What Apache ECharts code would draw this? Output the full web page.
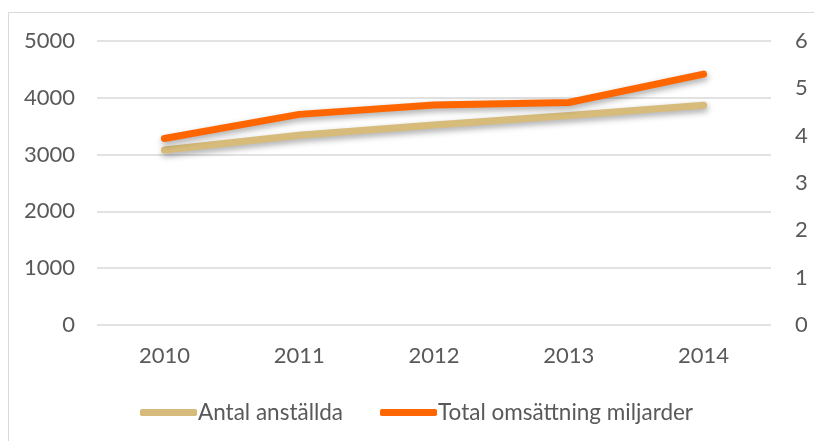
<!DOCTYPE html>
<html>
<head>
<meta charset="utf-8">
<script src="https://cdn.jsdelivr.net/npm/echarts@6/dist/echarts.min.js"></script>
<style>
  html, body { margin: 0; padding: 0; background: #fff; }
  #chart { width: 814px; height: 441px; }
</style>
</head>
<body>
<div id="chart"></div>
<script>
// data
var years = ['2010', '2011', '2012', '2013', '2014'];
var anstallda = [3080, 3340, 3520, 3690, 3870];
var omsattning = [3.94, 4.45, 4.65, 4.70, 5.30];
var seriesNames = ['Antal anställda', 'Total omsättning miljarder'];

var chart = echarts.init(document.getElementById('chart'));
var font = 'Lato, "Open Sans", sans-serif';
var textColor = '#595959';

var option = {
  animation: false,
  backgroundColor: '#fff',
  graphic: [{
    type: 'rect',
    shape: { x: 8.5, y: 12.5, width: 830, height: 440 },
    style: { fill: 'none', stroke: '#d9d9d9', lineWidth: 1 },
    silent: true
  }],
  grid: { left: 97, right: 43, top: 41, bottom: 116 },
  legend: {
    left: 135,
    top: 396,
    itemWidth: 57,
    itemHeight: 7,
    itemGap: 37,
    icon: 'roundRect',
    textStyle: { fontFamily: font, fontSize: 22.5, color: textColor, padding: [0, 0, 0, -4] },
    data: seriesNames
  },
  xAxis: {
    type: 'category',
    data: years,
    boundaryGap: true,
    axisLine: { show: false },
    axisTick: { show: false },
    axisLabel: { fontFamily: font, fontSize: 22, color: textColor, margin: 20 }
  },
  yAxis: [{
    type: 'value',
    min: 0,
    max: 5000,
    interval: 1000,
    axisLine: { show: false },
    axisTick: { show: false },
    axisLabel: {
      fontFamily: font, fontSize: 22, color: textColor, margin: 22,
      formatter: function (v) { return String(v); }
    },
    splitLine: { lineStyle: { color: '#d9d9d9', width: 1.5 } }
  }, {
    type: 'value',
    min: 0,
    max: 6,
    interval: 1,
    position: 'right',
    axisLine: { show: false },
    axisTick: { show: false },
    axisLabel: { fontFamily: font, fontSize: 22, color: textColor, margin: 24 },
    splitLine: { show: false }
  }],
  series: [{
    name: seriesNames[0],
    type: 'line',
    yAxisIndex: 0,
    data: anstallda,
    showSymbol: false,
    itemStyle: { color: '#d6bb7a' },
    lineStyle: {
      color: '#d6bb7a', width: 7, cap: 'round', join: 'round',
      shadowColor: 'rgba(0,0,0,0.35)', shadowBlur: 6, shadowOffsetY: 3, shadowOffsetX: 1
    }
  }, {
    name: seriesNames[1],
    type: 'line',
    yAxisIndex: 1,
    data: omsattning,
    showSymbol: false,
    itemStyle: { color: '#ff6600' },
    lineStyle: {
      color: '#ff6600', width: 7, cap: 'round', join: 'round',
      shadowColor: 'rgba(0,0,0,0.35)', shadowBlur: 6, shadowOffsetY: 3, shadowOffsetX: 1
    }
  }]
};

chart.setOption(option);
</script>
</body>
</html>
